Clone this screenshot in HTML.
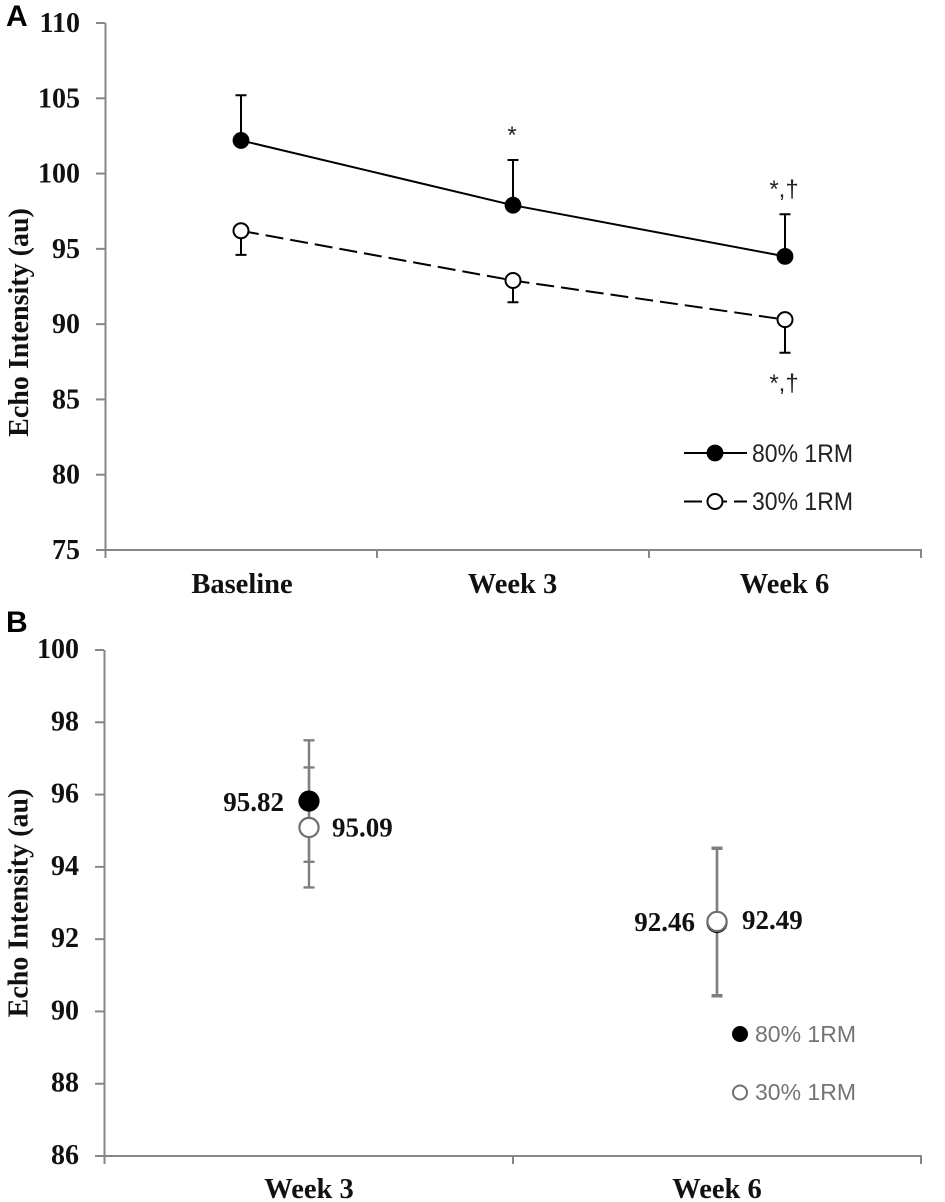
<!DOCTYPE html>
<html lang="en">
<head>
<meta charset="utf-8">
<title>Echo Intensity Charts</title>
<style>
  html, body { margin: 0; padding: 0; background: #fff; }
  svg { display: block; filter: blur(0.35px); font-kerning: none; }
  .tick { font: bold 28px "Liberation Serif", serif; fill: #111; }
  .cat { font: bold 28.5px "Liberation Serif", serif; fill: #111; }
  .title { font: bold 28px "Liberation Serif", serif; fill: #111; }
  .panel { font: bold 30px "Liberation Sans", sans-serif; fill: #000; }
  .val { font: bold 27px "Liberation Serif", serif; fill: #111; }
  .leg { font: 25px "Liberation Sans", sans-serif; }
  .legb { font: 23px "Liberation Sans", sans-serif; }
  .note { font: 24px "Liberation Sans", sans-serif; fill: #222; }
</style>
</head>
<body>
<svg id="fig" xmlns="http://www.w3.org/2000/svg" width="945" height="1202" viewBox="0 0 945 1202">
  <rect width="945" height="1202" fill="#fff"/>
  <text class="panel" x="6" y="26">A</text>
  <text class="panel" x="6" y="632">B</text>
  <text class="title" transform="translate(28,322.5) rotate(-90)" text-anchor="middle">Echo Intensity (au)</text>
  <text class="title" transform="translate(27.5,903) rotate(-90)" text-anchor="middle">Echo Intensity (au)</text>
  <g id="panelA"></g>
  <g id="panelB"></g>
</svg>
<script>
// Panel A data
const aCategories = ["Baseline", "Week 3", "Week 6"];
const aTicks = [75, 80, 85, 90, 95, 100, 105, 110];
const aHeavy = [102.2, 97.9, 94.5];
const aHeavyErrUp = [3.0, 3.0, 2.8];
const aLight = [96.2, 92.9, 90.3];
const aLightErrDown = [1.6, 1.45, 2.2];
const aNotes = ["", "*", "*,†"];
const aLightNotes = ["", "", "*,†"];
const aLegend = ["80% 1RM", "30% 1RM"];

// Panel B data
const bCategories = ["Week 3", "Week 6"];
const bTicks = [86, 88, 90, 92, 94, 96, 98, 100];
const bHeavy = [95.82, 92.46];
const bHeavyErr = [1.68, 2.04];
const bLight = [95.09, 92.49];
const bLightErr = [1.66, 2.04];
const bLegend = ["80% 1RM", "30% 1RM"];

const NS = "http://www.w3.org/2000/svg";
const AXIS = "#868686";
const ERRB = "#7f7f7f";

function mk(parent, tag, attrs, txt) {
  const el = document.createElementNS(NS, tag);
  for (const k in attrs) el.setAttribute(k, attrs[k]);
  if (txt !== undefined) el.textContent = txt;
  parent.appendChild(el);
  return el;
}

// Axis functions
const ax = i => 105 + (i + 0.5) * (816 / aCategories.length);
const ay = v => 23 + (110 - v) * (527 / 35);
const bx = i => 105 + (i + 0.5) * (816 / bCategories.length);
const by = v => 650 + (100 - v) * (506 / 14);

/* ---------- Panel A ---------- */
const A = document.getElementById("panelA");
let el;

el = mk(A, "line", { x1: 105.5, x2: 105.5, y1: ay(110), y2: 558, stroke: AXIS, "stroke-width": 2 });


el = mk(A, "line", { x1: 105, x2: 922, y1: ay(75), y2: ay(75), stroke: AXIS, "stroke-width": 2 });



aTicks.forEach(t => {
  el = mk(A, "line", { x1: 96, x2: 105, y1: ay(t), y2: ay(t), stroke: AXIS, "stroke-width": 2 });
  
  
  el = mk(A, "text", { class: "tick", x: 80, y: ay(t) + 9, "text-anchor": "end" }, t);
  
  
});

aCategories.forEach((c, i) => {
  const tx = 105 + (i + 1) * (816 / aCategories.length);
  el = mk(A, "line", { x1: tx, x2: tx, y1: ay(75), y2: 558, stroke: AXIS, "stroke-width": 2 });
  
  
  el = mk(A, "text", { class: "cat", x: ax(i) + (i === 0 ? 1 : -0.5), y: 593, "text-anchor": "middle" }, c);
  
  
});

// error bars
aHeavy.forEach((v, i) => {
  const top = ay(v + aHeavyErrUp[i]);
  el = mk(A, "path", { d: `M${ax(i)} ${ay(v)}V${top}M${ax(i) - 5.5} ${top}H${ax(i) + 5.5}`, stroke: "#000", "stroke-width": 2, fill: "none" });
  
  
});
aLight.forEach((v, i) => {
  const bot = ay(v - aLightErrDown[i]);
  el = mk(A, "path", { d: `M${ax(i)} ${ay(v)}V${bot}M${ax(i) - 5.5} ${bot}H${ax(i) + 5.5}`, stroke: "#000", "stroke-width": 2, fill: "none" });
  
  
});

// lines
el = mk(A, "polyline", { points: aHeavy.map((v, i) => ax(i) + "," + ay(v)).join(" "), fill: "none", stroke: "#000", "stroke-width": 2 });


el = mk(A, "polyline", { points: aLight.map((v, i) => ax(i) + "," + ay(v)).join(" "), fill: "none", stroke: "#000", "stroke-width": 2, "stroke-dasharray": "18 7" });



// markers
aHeavy.forEach((v, i) => {
  el = mk(A, "circle", { cx: ax(i), cy: ay(v), r: 8.4, fill: "#000" });
  
  
});
aLight.forEach((v, i) => {
  el = mk(A, "circle", { cx: ax(i), cy: ay(v), r: 7.5, fill: "#fff", stroke: "#000", "stroke-width": 2 });
  
  
});

// significance notes
aNotes.forEach((n, i) => {
  if (!n) return;
  el = mk(A, "text", { class: "note", x: ax(i) - 1, y: ay(aHeavy[i] + aHeavyErrUp[i]) - 17, "text-anchor": "middle" }, n);
  
  
});
aLightNotes.forEach((n, i) => {
  if (!n) return;
  el = mk(A, "text", { class: "note", x: ax(i) - 1, y: ay(aLight[i] - aLightErrDown[i]) + 38, "text-anchor": "middle" }, n);
  
  
});

// legend A
el = mk(A, "line", { x1: 684, x2: 747, y1: 453, y2: 453, stroke: "#000", "stroke-width": 2 });


el = mk(A, "circle", { cx: 715, cy: 453, r: 8.4, fill: "#000" });


el = mk(A, "text", { class: "leg", x: 752, y: 462, fill: "#222", textLength: 101, lengthAdjust: "spacingAndGlyphs" }, aLegend[0]);


el = mk(A, "path", { d: "M684 501.5H702M722 501.5H727M734 501.5H747", stroke: "#000", "stroke-width": 2, fill: "none" });


el = mk(A, "circle", { cx: 715, cy: 501.5, r: 7.5, fill: "#fff", stroke: "#000", "stroke-width": 2 });


el = mk(A, "text", { class: "leg", x: 752, y: 510, fill: "#222", textLength: 101, lengthAdjust: "spacingAndGlyphs" }, aLegend[1]);



/* ---------- Panel B ---------- */
const B = document.getElementById("panelB");

el = mk(B, "line", { x1: 104.5, x2: 104.5, y1: by(100), y2: 1164, stroke: AXIS, "stroke-width": 2 });


el = mk(B, "line", { x1: 95, x2: 922, y1: by(86), y2: by(86), stroke: AXIS, "stroke-width": 2 });



bTicks.forEach(t => {
  el = mk(B, "line", { x1: 95, x2: 104, y1: by(t), y2: by(t), stroke: AXIS, "stroke-width": 2 });
  
  
  el = mk(B, "text", { class: "tick", x: 79, y: by(t) + 8, "text-anchor": "end" }, t);
  
  
});

bCategories.forEach((c, i) => {
  const tx = 105 + (i + 1) * (816 / bCategories.length);
  el = mk(B, "line", { x1: tx, x2: tx, y1: by(86), y2: 1164, stroke: AXIS, "stroke-width": 2 });
  
  
  el = mk(B, "text", { class: "cat", x: bx(i), y: 1198, "text-anchor": "middle" }, c);
  
  
});

function errBar(v, e, i) {
  const t = by(v + e), b = by(v - e), x = bx(i);
  return `M${x} ${t}V${b}M${x - 5.5} ${t}H${x + 5.5}M${x - 5.5} ${b}H${x + 5.5}`;
}
bHeavy.forEach((v, i) => {
  el = mk(B, "path", { d: errBar(v, bHeavyErr[i], i), stroke: ERRB, "stroke-width": 2.4, fill: "none" });
  
  
});
bLight.forEach((v, i) => {
  el = mk(B, "path", { d: errBar(v, bLightErr[i], i), stroke: ERRB, "stroke-width": 2.4, fill: "none" });
  
  
});
bHeavy.forEach((v, i) => {
  el = mk(B, "circle", { cx: bx(i), cy: by(v), r: 10.6, fill: "#000" });
  
  
});
bLight.forEach((v, i) => {
  el = mk(B, "circle", { cx: bx(i), cy: by(v), r: 9.6, fill: "#fff", stroke: "#6f6f6f", "stroke-width": 2.2 });
  
  
});

// value labels
bHeavy.forEach((v, i) => {
  el = mk(B, "text", { class: "val", x: bx(i) - (i === 0 ? 25 : 22), y: by(v) + (i === 0 ? 10 : 8.5), "text-anchor": "end" }, v.toFixed(2));
  
  
});
bLight.forEach((v, i) => {
  el = mk(B, "text", { class: "val", x: bx(i) + (i === 0 ? 23 : 25), y: by(v) + (i === 0 ? 9 : 7.5) }, v.toFixed(2));
  
  
});

// legend B
el = mk(B, "circle", { cx: 740, cy: 1034, r: 8, fill: "#000" });


el = mk(B, "text", { class: "legb", x: 755, y: 1042, fill: "#747474", textLength: 101, lengthAdjust: "spacingAndGlyphs" }, bLegend[0]);


el = mk(B, "circle", { cx: 740, cy: 1092.5, r: 7, fill: "#fff", stroke: "#6f6f6f", "stroke-width": 2 });


el = mk(B, "text", { class: "legb", x: 755, y: 1100, fill: "#747474", textLength: 101, lengthAdjust: "spacingAndGlyphs" }, bLegend[1]);


</script>
</body>
</html>
